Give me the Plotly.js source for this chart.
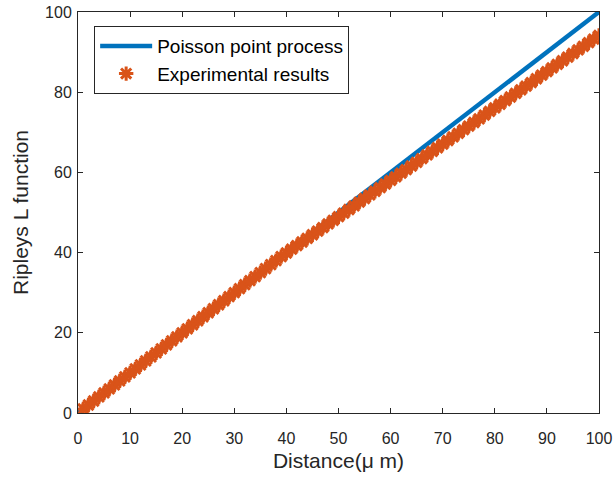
<!DOCTYPE html>
<html>
<head>
<meta charset="utf-8">
<script src="https://cdn.plot.ly/plotly-3.0.1.min.js"></script>
<style>html,body{margin:0;padding:0;background:#fff;}#chart{width:615px;height:478px;}</style>
</head>
<body>
<div id="chart"></div>
<script>
var poissonX = [0, 100];
var poissonY = [0, 100];

var expX = [1,2,3,4,5,6,7,8,9,10,11,12,13,14,15,16,17,18,19,20,21,22,23,24,25,26,27,28,29,30,31,32,33,34,35,36,37,38,39,40,41,42,43,44,45,46,47,48,49,50,51,52,53,54,55,56,57,58,59,60,61,62,63,64,65,66,67,68,69,70,71,72,73,74,75,76,77,78,79,80,81,82,83,84,85,86,87,88,89,90,91,92,93,94,95,96,97,98,99,100];
var expY = [1,2,3,4,5,6,7,8,9,10,11,12,13,14,15,16,17,18,19,20,21,22,23,24,25,26,27,28,29,30,31,32,33,34,35,36,37,38,39,39.9,
40.85,41.75,42.65,43.55,44.45,45.35,46.25,47.15,48.05,48.95,
49.85,50.75,51.65,52.6,53.5,54.4,55.3,56.2,57.1,58.0,
58.9,59.8,60.7,61.6,62.5,63.45,64.35,65.25,66.15,67.05,
67.95,68.85,69.75,70.65,71.55,72.45,73.35,74.3,75.2,76.1,
77.0,77.9,78.8,79.7,80.6,81.5,82.4,83.35,84.25,85.15,
86.05,86.95,87.85,88.75,89.65,90.55,91.45,92.35,93.25,94.15];

var xTicks = [0,10,20,30,40,50,60,70,80,90,100];
var yTicks = [0,20,40,60,80,100];

var traces = [
  {x: poissonX, y: poissonY, type: 'scatter', mode: 'lines', name: 'Poisson point process',
   line: {color: '#0072BD', width: 4.5}},
  {x: expX, y: expY, type: 'scatter', mode: 'markers', name: 'Experimental results',
   marker: {symbol: 'asterisk-open', size: 12, color: '#D95319', line: {color: '#D95319', width: 3}}}
];

var fam = 'Liberation Sans, Arial, sans-serif';
var axisCommon = {
  showgrid: false, zeroline: false, showline: true, mirror: 'ticks',
  linecolor: '#262626', linewidth: 1, ticks: 'inside', ticklen: 5, tickwidth: 1,
  tickcolor: '#262626',
  tickfont: {family: fam, size: 16, color: '#262626'}
};

var layout = {
  width: 615, height: 478,
  margin: {l: 78, r: 16, t: 12, b: 65},
  paper_bgcolor: '#fff', plot_bgcolor: '#fff',
  showlegend: true,
  legend: {x: 0.031, y: 0.965, xanchor: 'left', yanchor: 'top',
    bgcolor: '#fff', bordercolor: '#262626', borderwidth: 1,
    font: {family: fam, size: 19, color: '#000'},
    itemwidth: 52, tracegroupgap: 0},
  xaxis: Object.assign({}, axisCommon, {range: [0, 100], tickvals: xTicks, ticktext: xTicks.map(String),
    ticklabelstandoff: 11,
    title: {text: 'Distance(\u03bc m)', font: {family: fam, size: 21, color: '#262626'}, standoff: 7}}),
  yaxis: Object.assign({}, axisCommon, {range: [0, 100], tickvals: yTicks, ticktext: yTicks.map(String),
    ticklabelstandoff: 2,
    title: {text: 'Ripleys L function', font: {family: fam, size: 21, color: '#262626'}, standoff: 10}})
};

Plotly.newPlot('chart', traces, layout, {displayModeBar: false, staticPlot: true});
</script>
</body>
</html>
